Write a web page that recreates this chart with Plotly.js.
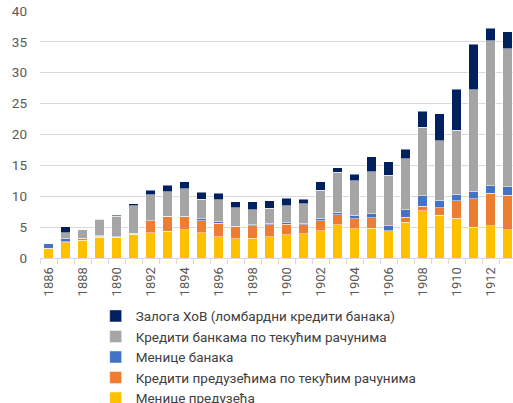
<!DOCTYPE html>
<html>
<head>
<meta charset="utf-8">
<script src="https://cdn.plot.ly/plotly-3.0.1.min.js"></script>
<style>
html,body{margin:0;padding:0;overflow:hidden;background:#fff;}
#chart{width:520px;height:403px;}
</style>
</head>
<body>
<div id="chart"></div>
<script>
const years = ["1886","1887","1888","1889","1890","1891","1892","1893","1894","1895","1896","1897","1898","1899","1900","1901","1902","1903","1904","1905","1906","1907","1908","1909","1910","1911","1912","1913"];
const tickLabels = years.map((y, i) => (i % 2 === 0 ? y : ""));

const menicePreduzeca   = [1.5, 2.5, 2.9, 3.4, 3.3, 3.85, 4.1, 4.35, 4.6, 4.05, 3.45, 3.1, 3.2, 3.45, 3.75, 3.9, 4.45, 5.4, 4.75, 4.85, 4.4, 5.8, 7.65, 6.9, 6.45, 4.95, 5.2, 4.55];
const kreditiPreduzecima = [0.05, 0.1, 0.2, 0.1, 0.05, 0.05, 1.9, 2.4, 2.1, 2.0, 2.15, 1.95, 2.0, 1.95, 1.75, 1.5, 1.6, 1.6, 1.6, 1.7, 0.05, 0.8, 0.75, 1.2, 2.85, 4.65, 5.3, 5.65];
const meniceBanaka      = [0.75, 0.6, 0.1, 0.15, 0.1, 0.1, 0.05, 0.05, 0.05, 0.3, 0.3, 0.1, 0.2, 0.2, 0.2, 0.25, 0.4, 0.4, 0.55, 0.65, 0.8, 1.2, 1.7, 1.25, 1.05, 1.2, 1.2, 1.35];
const kreditiBankama    = [0.05, 0.85, 1.35, 2.6, 3.35, 4.5, 4.2, 3.9, 4.45, 3.2, 3.5, 2.95, 2.4, 2.45, 2.8, 3.1, 4.5, 6.45, 5.65, 6.8, 8.15, 8.25, 11.1, 9.6, 10.3, 16.45, 23.5, 22.35];
const zalogaHoV         = [0.0, 1.05, 0.0, 0.1, 0.1, 0.25, 0.7, 1.05, 1.15, 1.1, 1.1, 1.0, 1.3, 1.2, 1.2, 0.75, 1.4, 0.75, 1.05, 2.4, 2.2, 1.55, 2.6, 4.4, 6.7, 7.35, 2.0, 2.75];

const seriesNames = [
  "Менице предузећа",
  "Кредити предузећима по текућим рачунима",
  "Менице банака",
  "Кредити банкама по текућим рачунима",
  "Залога ХоВ (ломбардни кредити банака)"
];
const seriesValues = [menicePreduzeca, kreditiPreduzecima, meniceBanaka, kreditiBankama, zalogaHoV];
const seriesColors = ["#FFC000", "#ED7D31", "#4472C4", "#A5A5A5", "#002060"];

const traces = seriesValues.map((vals, i) => ({
  type: "bar",
  x: years,
  y: vals,
  name: seriesNames[i],
  marker: {color: seriesColors[i], line: {color: "rgba(255,255,255,0.8)", width: 0.6}},
  hoverinfo: "x+y+name"
}));

const FONT = "Roboto, 'Liberation Sans', sans-serif";

const layout = {
  width: 520,
  height: 403,
  margin: {l: 40, r: 4, t: 11, b: 144.7, autoexpand: false},
  paper_bgcolor: "#ffffff",
  plot_bgcolor: "#ffffff",
  barmode: "stack",
  bargap: 0.45,
  font: {family: FONT, size: 13, color: "#404040"},
  showlegend: true,
  legend: {
    orientation: "v",
    traceorder: "reversed",
    xref: "container",
    yref: "container",
    x: 0.184,
    y: 0.254,
    xanchor: "left",
    yanchor: "top",
    font: {family: FONT, size: 13.5, color: "#404040"},
    bgcolor: "rgba(0,0,0,0)",
    itemclick: false
  },
  xaxis: {
    type: "category",
    automargin: false,
    tickson: "boundaries",
    tickmode: "array",
    tickvals: years,
    ticktext: tickLabels,
    tickangle: -90,
    ticks: "outside",
    ticklen: 5,
    tickcolor: "#d9d9d9",
    showline: true,
    linecolor: "#d9d9d9",
    linewidth: 1,
    showgrid: false,
    zeroline: false,
    tickfont: {family: FONT, size: 13, color: "#595959"},
    ticklabelstandoff: 3,
    fixedrange: true
  },
  yaxis: {
    automargin: false,
    range: [0, 40],
    dtick: 5,
    tick0: 0,
    showgrid: true,
    gridcolor: "#d9d9d9",
    gridwidth: 1,
    zeroline: false,
    showline: false,
    ticks: "",
    tickfont: {family: FONT, size: 13.5, color: "#595959"},
    ticklabelstandoff: 12,
    fixedrange: true
  }
};

Plotly.newPlot("chart", traces, layout, {displayModeBar: false, staticPlot: true});
</script>
</body>
</html>
